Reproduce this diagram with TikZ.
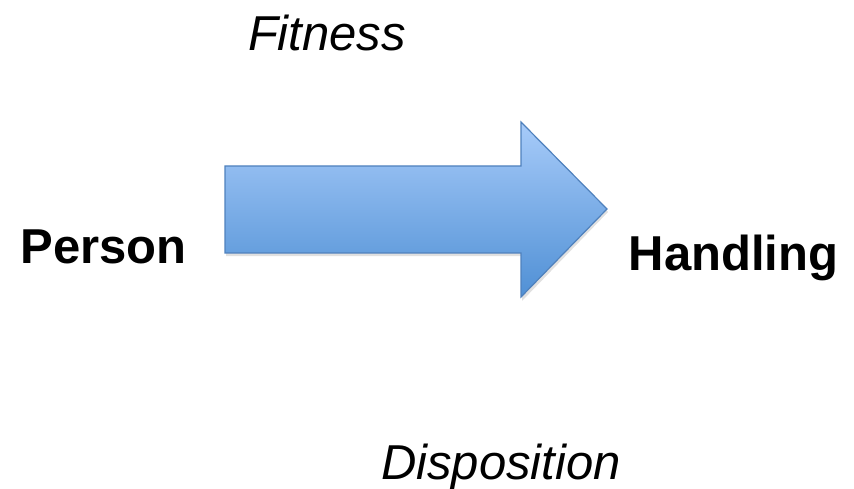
\documentclass[tikz,border=0pt]{standalone}
\usepackage{fontspec}
\setmainfont{Liberation Sans}
\usetikzlibrary{positioning}

\definecolor{arrowtop}{HTML}{A7CBF9}
\definecolor{arrowbot}{HTML}{5090D5}
\definecolor{arrowline}{HTML}{4F81BD}

\tikzset{
  bigword/.style={font=\fontsize{49}{58}\selectfont, inner sep=0pt, anchor=base},
  lbl/.style={bigword, font=\fontsize{49}{58}\selectfont\bfseries},
  side/.style={bigword, font=\fontsize{49}{58}\selectfont\itshape},
}

\begin{document}
\begin{tikzpicture}[x=1pt,y=1pt]
\useasboundingbox (0,0) rectangle (854,488);

% shadow
\fill[black, opacity=0.12] (226,232) -- (522,232) -- (522,187) -- (608,276) -- (522,363) -- (522,319) -- (226,319) -- cycle;

% big arrow
\draw[arrowline, line width=1.2pt, top color=arrowtop, bottom color=arrowbot]
  (225,235) -- (521,235) -- (521,191) -- (607,279) -- (521,366) -- (521,322) -- (225,322) -- cycle;

\node[lbl] (person) at (103.5,225) {Person};
\node[lbl] (handling) at (733.5,218) {Handling};
\node[side] (fitness) at (327,437) {Fitness};
\node[side] (disposition) at (501,9) {Disposition};

\end{tikzpicture}
\end{document}
